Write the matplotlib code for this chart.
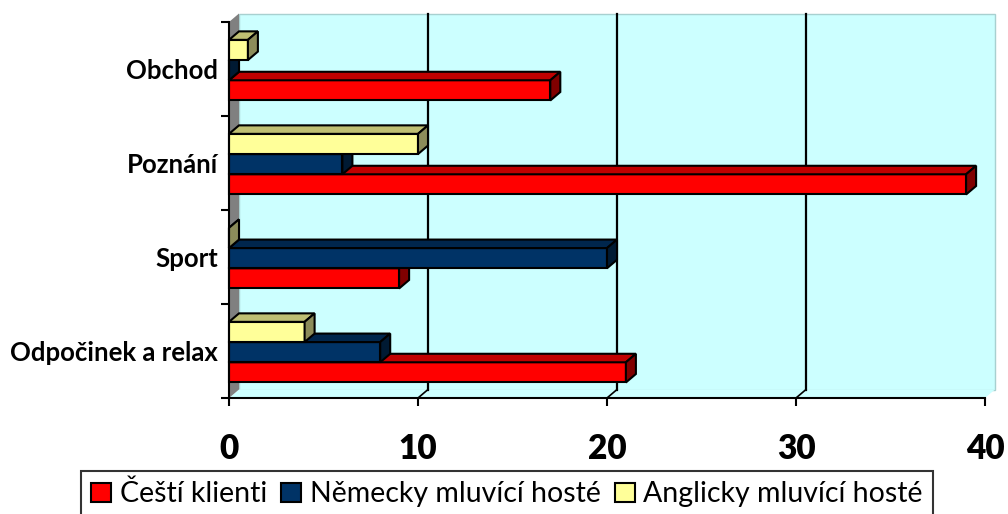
import matplotlib
matplotlib.use("Agg")
import matplotlib.pyplot as plt
from matplotlib.patches import Polygon, Patch

plt.rcParams['font.family'] = ['Lato', 'DejaVu Sans']

# data
categories = ["Odpočinek a relax", "Sport", "Poznání", "Obchod"]
series_names = ["Čeští klienti", "Německy mluvící hosté", "Anglicky mluvící hosté"]
cesti = [21, 9, 39, 17]
nemecky = [8, 20, 6, 0]
anglicky = [4, 0, 10, 1]
xticks = [0, 10, 20, 30, 40]

# colours: front, top, side
colors = [("#FF0000", "#C00000", "#800000"),
          ("#003366", "#00264D", "#001A33"),
          ("#FFFF99", "#BFBF73", "#8C8C5A")]

fig = plt.figure(figsize=(10.08, 5.14), dpi=100)
ax = fig.add_axes([229/1008, 116/514, 756/1008, 376/514])
ax.set_xlim(0, 40)
ax.set_ylim(0, 4)

dx = 10/18.9    # depth offset in x units
dy = 8.5/94     # depth offset in y units
h = 0.215
off = 0.165

# walls
ax.add_patch(Polygon([(dx, dy), (40+dx, dy), (40+dx, 4+dy), (dx, 4+dy)], closed=True,
                     facecolor="#CCFFFF", edgecolor="#A8D0D0", lw=1, clip_on=False, zorder=0))
ax.add_patch(Polygon([(0, 0), (40, 0), (40+dx, dy), (dx, dy)], closed=True,
                     facecolor="#CCFFFF", edgecolor="none", clip_on=False, zorder=0))
ax.add_patch(Polygon([(0, 0), (dx, dy), (dx, 4+dy), (0, 4)], closed=True,
                     facecolor="#808080", edgecolor="none", clip_on=False, zorder=0.5))
for g in xticks[1:-1]:
    ax.plot([g+dx, g+dx], [dy, 4+dy], color="black", lw=1.6, zorder=1, clip_on=False)
    ax.plot([g, g+dx], [0, dy], color="black", lw=1.2, zorder=1, clip_on=False)


def bar3d(v, y0, cols, z):
    f, t, s = cols
    ax.add_patch(Polygon([(0, y0), (v, y0), (v, y0+h), (0, y0+h)], closed=True,
                         facecolor=f, edgecolor="black", lw=1.5, zorder=z, clip_on=False))
    ax.add_patch(Polygon([(0, y0+h), (v, y0+h), (v+dx, y0+h+dy), (dx, y0+h+dy)], closed=True,
                         facecolor=t, edgecolor="black", lw=1.5, zorder=z, clip_on=False))
    ax.add_patch(Polygon([(v, y0), (v+dx, y0+dy), (v+dx, y0+h+dy), (v, y0+h)], closed=True,
                         facecolor=s, edgecolor="black", lw=1.5, zorder=z, clip_on=False))


all_series = [cesti, nemecky, anglicky]
for i in range(len(categories) - 1, -1, -1):
    for j, vals in enumerate(all_series):
        bar3d(vals[i], i + off + j*h, colors[j], 2 + (3 - i)*0.1 + j*0.01)

# axes styling
for sp in ["top", "right"]:
    ax.spines[sp].set_visible(False)
for sp in ["left", "bottom"]:
    ax.spines[sp].set_linewidth(1.5)
    ax.spines[sp].set_zorder(5)
ax.set_xticks(xticks)
ax.set_xticklabels([str(t) for t in xticks], fontsize=24, fontweight="heavy")
ax.tick_params(axis="x", length=6, width=1.5, pad=19)
ax.set_yticks([0, 1, 2, 3, 4], minor=True)
ax.set_yticks([i + 0.5 for i in range(len(categories))])
ax.set_yticklabels(categories, fontsize=18.5, fontweight="bold")
ax.tick_params(axis="y", which="major", length=0, pad=8)
ax.tick_params(axis="y", which="minor", length=6, width=1.5)

handles = [Patch(facecolor=c[0], edgecolor="black", lw=1.5) for c in colors]
leg = fig.legend(handles, series_names, loc="upper center", bbox_to_anchor=(0.503, 1 - 471/514),
                 ncol=3, fontsize=20.5, frameon=True, fancybox=False, borderpad=0.35,
                 borderaxespad=0, handlelength=0.7, handleheight=0.7, handletextpad=0.3,
                 columnspacing=0.5)
leg.get_frame().set_edgecolor("black")
leg.get_frame().set_linewidth(1.5)

fig.savefig("out.png", dpi=100)
